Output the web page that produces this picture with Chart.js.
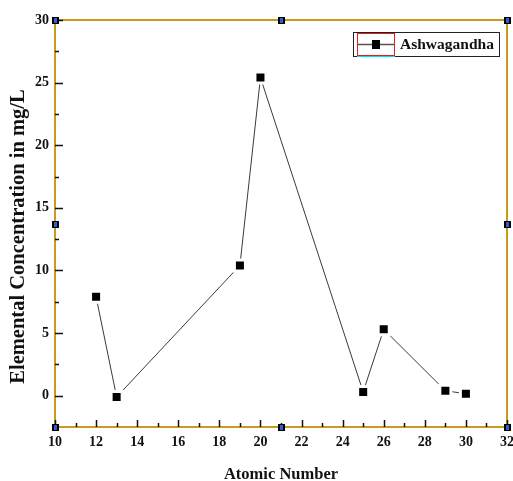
<!DOCTYPE html>
<html><head><meta charset="utf-8">
<script src="https://cdn.jsdelivr.net/npm/chart.js@4.4.1/dist/chart.umd.min.js"></script>
<style>html,body{margin:0;padding:0;background:#fff;}#wrap{width:513px;height:481px;}</style>
</head><body><div id="wrap"><canvas id="c" width="513" height="481"></canvas></div>
<script>
const atomicNumbers = [12, 13, 19, 20, 25, 26, 29, 30];
const concentrations = [7.9, -0.1, 10.4, 25.4, 0.3, 5.3, 0.4, 0.15];
const seriesLabel = 'Ashwagandha';
const xTicks = [10, 12, 14, 16, 18, 20, 22, 24, 26, 28, 30, 32];
const xMinorTicks = [11, 13, 15, 17, 19, 21, 23, 25, 27, 29, 31];
const yTicks = [0, 5, 10, 15, 20, 25, 30];
const yMinorTicks = [2.5, 7.5, 12.5, 17.5, 22.5, 27.5];
const xTitle = 'Atomic Number';
const yTitle = 'Elemental Concentration in mg/L';

const FONT = '"Liberation Serif", "Times New Roman", serif';
const FRAME = '#c99a1c';

const decor = {
  id: 'decor',
  afterDatasetsDraw(chart) {
    const ctx = chart.ctx, a = chart.chartArea;
    const xs = chart.scales.x, ys = chart.scales.y;
    ctx.save();
    // frame
    ctx.strokeStyle = FRAME; ctx.lineWidth = 2;
    ctx.strokeRect(a.left, a.top, a.right - a.left, a.bottom - a.top);
    // ticks (inward)
    ctx.strokeStyle = '#111'; ctx.lineWidth = 1.5;
    ctx.beginPath();
    xTicks.forEach(v => { const x = Math.round(xs.getPixelForValue(v)) + 0.5; ctx.moveTo(x, a.bottom); ctx.lineTo(x, a.bottom - 7); });
    xMinorTicks.forEach(v => { const x = Math.round(xs.getPixelForValue(v)) + 0.5; ctx.moveTo(x, a.bottom); ctx.lineTo(x, a.bottom - 4); });
    yTicks.forEach(v => { const y = Math.round(ys.getPixelForValue(v)) + 0.5; ctx.moveTo(a.left, y); ctx.lineTo(a.left + 8, y); });
    yMinorTicks.forEach(v => { const y = Math.round(ys.getPixelForValue(v)) + 0.5; ctx.moveTo(a.left, y); ctx.lineTo(a.left + 4, y); });
    ctx.stroke();
    // selection handles
    const mx = (a.left + a.right) / 2, my = (a.top + a.bottom) / 2;
    [[a.left, a.top], [mx, a.top], [a.right, a.top], [a.left, my], [a.right, my], [a.left, a.bottom], [mx, a.bottom], [a.right, a.bottom]].forEach(([x, y]) => {
      ctx.fillStyle = '#000'; ctx.fillRect(Math.round(x) - 3, Math.round(y) - 3, 7, 7);
      ctx.fillStyle = '#2f5fd0'; ctx.fillRect(Math.round(x) - 1, Math.round(y) - 2, 3, 5);
    });
    // legend
    const bx = a.right - 154, by = a.top + 12, bw = 146, bh = 24;
    ctx.strokeStyle = '#222'; ctx.lineWidth = 1;
    ctx.strokeRect(bx + 0.5, by + 0.5, bw, bh);
    ctx.strokeStyle = '#e02020';
    ctx.strokeRect(bx + 4.5, by + 1.5, 37, 22);
    ctx.strokeStyle = '#00e5ee'; ctx.beginPath(); ctx.moveTo(bx + 4, by + 24.5); ctx.lineTo(bx + 42, by + 24.5); ctx.stroke();
    ctx.strokeStyle = '#555'; ctx.lineWidth = 1.5;
    ctx.beginPath(); ctx.moveTo(bx + 5, by + 12.5); ctx.lineTo(bx + 41, by + 12.5); ctx.stroke();
    ctx.fillStyle = '#000'; ctx.fillRect(bx + 19, by + 8, 8, 9);
    ctx.fillStyle = '#111'; ctx.font = 'bold 15.5px ' + FONT; ctx.textBaseline = 'middle'; ctx.textAlign = 'left';
    ctx.fillText(seriesLabel, bx + 47, by + 13);
    // y axis title
    ctx.translate(24, (a.top + a.bottom) / 2 + 13);
    ctx.rotate(-Math.PI / 2);
    ctx.font = 'bold 20.5px ' + FONT; ctx.textAlign = 'center'; ctx.textBaseline = 'alphabetic'; ctx.fillStyle = '#111';
    ctx.fillText(yTitle, 0, 0);
    ctx.restore();
  }
};

new Chart(document.getElementById('c'), {
  type: 'line',
  data: {
    datasets: [{
      label: seriesLabel,
      data: atomicNumbers.map((x, i) => ({ x, y: concentrations[i] })),
      borderColor: '#3a3a3a', borderWidth: 1,
      pointStyle: 'rect', pointRadius: 7.8, pointHoverRadius: 7.8,
      pointBackgroundColor: '#000', pointBorderColor: '#fff', pointBorderWidth: 3,
      tension: 0, fill: false
    }]
  },
  options: {
    responsive: false, animation: false, devicePixelRatio: 1,
    layout: { autoPadding: false, padding: { left: 0, right: 6, top: 20, bottom: 0 } },
    plugins: { legend: { display: false }, tooltip: { enabled: false } },
    scales: {
      x: {
        type: 'linear', min: 10, max: 32,
        afterBuildTicks: s => { s.ticks = xTicks.map(v => ({ value: v })); },
        afterFit: s => { s.height = 54; s.paddingLeft = 0; s.paddingRight = 0; },
        grid: { display: false, drawTicks: false },
        border: { display: false },
        ticks: { padding: 7, color: '#111', font: { family: FONT, size: 14, weight: 'bold' }, maxRotation: 0, autoSkip: false },
        title: { display: true, text: xTitle, color: '#111', padding: { top: 0, bottom: -4 }, font: { family: FONT, size: 16.5, weight: 'bold' } }
      },
      y: {
        type: 'linear', min: -2.5, max: 30,
        afterBuildTicks: s => { s.ticks = yTicks.map(v => ({ value: v })); },
        afterFit: s => { s.width = 55; },
        grid: { display: false, drawTicks: false },
        border: { display: false },
        ticks: { padding: 6, color: '#111', font: { family: FONT, size: 14, weight: 'bold' }, autoSkip: false },
        title: { display: false, text: yTitle }
      }
    }
  },
  plugins: [decor]
});
</script></body></html>
